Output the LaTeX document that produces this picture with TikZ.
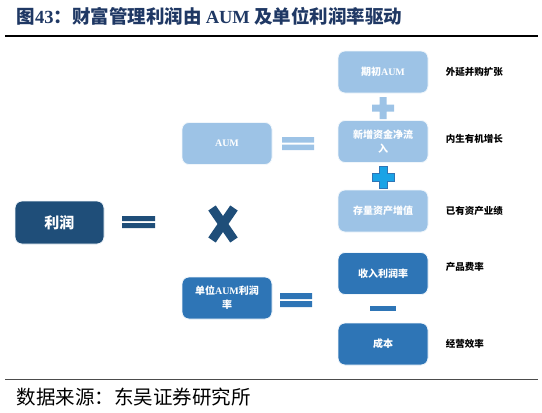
\documentclass[tikz,border=0pt]{standalone}
\usepackage{fontspec}
\setmainfont{Noto Sans CJK SC}
\newfontfamily\latin{Liberation Serif}
\usetikzlibrary{positioning}
\definecolor{azuloscuro}{HTML}{1F4E79}
\definecolor{azulmedio}{HTML}{2E75B6}
\definecolor{azulclaro}{HTML}{9DC3E6}
\definecolor{azulvivo}{HTML}{1AA3E6}
\definecolor{titulo}{HTML}{1F3864}

\begin{document}
\begin{tikzpicture}[x=1pt, y=-1pt,
        cuadro/.style={rectangle, rounded corners=7pt, draw=white!85!azulclaro, line width=0.8pt, minimum width=90pt, minimum height=42pt, align=center, text=white, font=\fontsize{10}{14}\selectfont\bfseries},
        nota/.style={anchor=west, font=\fontsize{9.5}{12}\selectfont\bfseries}]

        \useasboundingbox (0,0) rectangle (542,413);

        % Titulo y reglas
        \node[anchor=west, text=titulo, font=\fontsize{18.5}{20}\selectfont\bfseries] (cabecera) at (13,16) {图{\latin 43}：财富管理利润由 {\latin AUM} 及单位利润率驱动};
        \draw[line width=2pt] (5,36) -- (538,36);
        \draw[black!70, line width=1.5pt] (5,379.5) -- (538,379.5);
        \node[anchor=west, font=\fontsize{19.5}{21}\selectfont] (fuente) at (13,397) {数据来源：东吴证券研究所};

        % Cajas
        \node[cuadro, fill=azuloscuro, minimum width=89pt, minimum height=43pt, font=\fontsize{15}{18}\selectfont\bfseries] (beneficio) at (59.5,222.5) {利润};
        \node[cuadro, fill=azulclaro] (aum) at (227,143.5) {\latin AUM};
        \node[cuadro, fill=azulmedio] (margen) at (227,298) {单位{\latin AUM}利润\\率};

        \node[cuadro, fill=azulclaro] (inicial) at (383,72) {期初{\latin AUM}};
        \node[cuadro, fill=azulclaro] (flujo) at (383,141.5) {新增资金净流\\入};
        \node[cuadro, fill=azulclaro] (stock) at (383,211) {存量资产增值};
        \node[cuadro, fill=azulmedio] (ingreso) at (383,273.5) {收入利润率};
        \node[cuadro, fill=azulmedio] (costo) at (383,344) {成本};

        % Notas
        \node[nota, right=14pt of inicial] (n1) {外延并购扩张};
        \node[nota, right=14pt of flujo, yshift=3pt] (n2) {内生有机增长};
        \node[nota, right=14pt of stock] (n3) {已有资产业绩};
        \node[nota, right=14pt of ingreso, yshift=7pt] (n4) {产品费率};
        \node[nota, right=14pt of costo] (n5) {经营效率};

        % Signos
        \fill[azuloscuro] (122,216) rectangle (155,221) (122,223) rectangle (155,228);
        \fill[azulclaro] (282,137) rectangle (314,142.5) (282,144.5) rectangle (314,150);
        \fill[azulmedio] (280,293) rectangle (312,299) (280,301) rectangle (312,307);
        \draw[azuloscuro, line width=9pt] (212,208) -- (234,240) (234,208) -- (212,240);
        \fill[azulclaro] (372,104.5) rectangle (394,111.5) (379.5,97) rectangle (386.5,119);
        \filldraw[azulvivo, draw=azulmedio, line width=0.6pt] (372,173) -- (379,173) -- (379,166) -- (387,166) -- (387,173) -- (394,173) -- (394,181) -- (387,181) -- (387,188) -- (379,188) -- (379,181) -- (372,181) -- cycle;
        \fill[azulmedio] (370,306) rectangle (396,311);
    \end{tikzpicture}
\end{document}
